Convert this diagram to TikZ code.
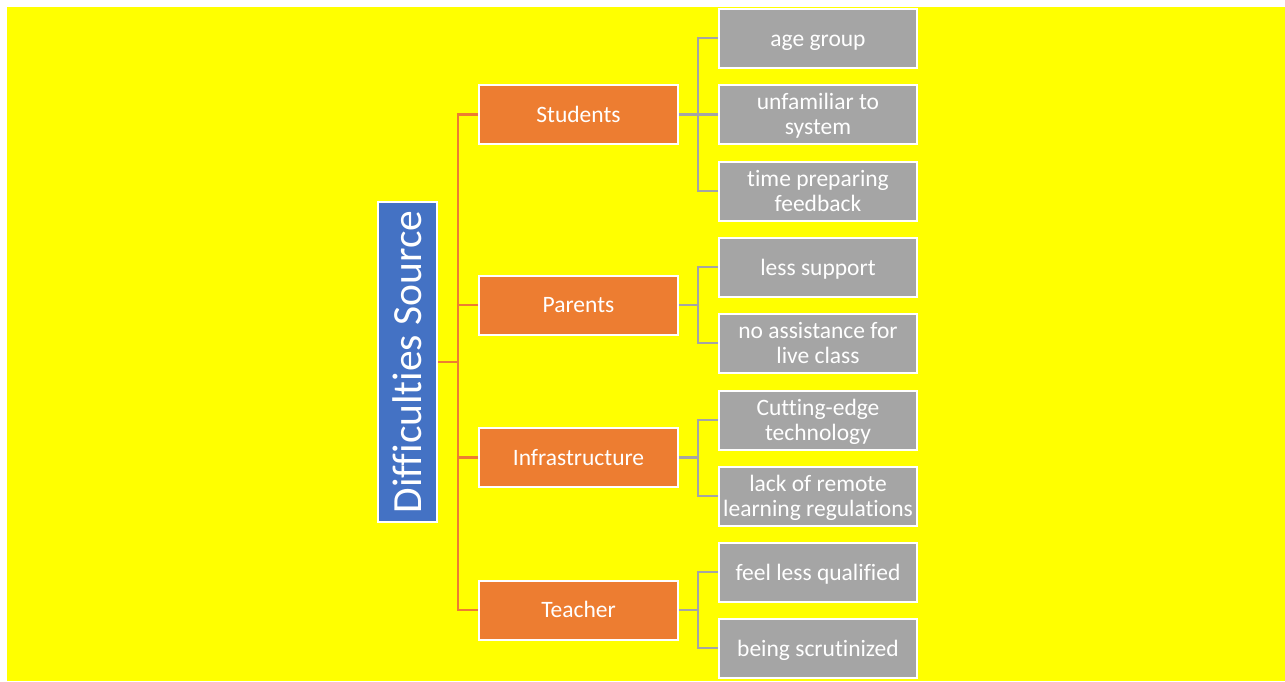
\documentclass[tikz,border=0pt]{standalone}
\usepackage{fontspec}
\setmainfont[Ligatures=NoCommon]{Carlito}
\definecolor{bgyellow}{RGB}{255,255,0}
\definecolor{orgfill}{RGB}{237,125,49}
\definecolor{grayfill}{RGB}{165,165,165}
\definecolor{bluefill}{RGB}{68,114,196}
\newcommand{\catstrut}{\rule[-11pt]{0pt}{37pt}}
\newcommand{\leafstrut}{\rule[-11pt]{0pt}{38pt}}
\newcommand{\twolines}[1]{\raisebox{-9pt}[0pt][0pt]{\begin{tabular}{@{}c@{}}#1\end{tabular}}}
\begin{document}
\begin{tikzpicture}[x=1pt,y=-1pt,
  rootbox/.style={draw=white,line width=2pt,fill=bluefill,text=white,minimum width=59pt,minimum height=320pt,inner sep=0pt,font=\fontsize{41.5}{44}\selectfont},
  catbox/.style={draw=white,line width=2pt,fill=orgfill,text=white,minimum width=199pt,minimum height=59pt,inner sep=0pt,font=\fontsize{23.5}{26}\selectfont,execute at begin node=\catstrut},
  leafbase/.style={draw=white,line width=2pt,fill=grayfill,text=white,minimum width=198pt,minimum height=59pt,inner sep=0pt,font=\fontsize{23.5}{25}\selectfont},
  leafbox/.style={leafbase,execute at begin node=\leafstrut},
  leaftwo/.style={leafbase},
  oline/.style={draw=orgfill,line width=2.2pt},
  gline/.style={draw=grayfill,line width=2.2pt}]
\useasboundingbox (0,0) rectangle (1285,681);
\fill[white] (0,0) rectangle (1285,681);
\fill[bgyellow] (7,7) rectangle (1285,681);

\node[rootbox] (root) at (407.5,362) {\rotatebox{90}{Difficulties Source}};

\node[catbox] (stu) at (578.5,114.5) {Students};
\node[catbox] (par) at (578.5,305) {Parents};
\node[catbox] (inf) at (578.5,457.5) {Infrastructure};
\node[catbox] (tea) at (578.5,610) {Teacher};

\node[leafbox] (l1) at (818,38) {age group};
\node[leaftwo] (l2) at (818,114.5) {\twolines{unfamiliar to\\system}};
\node[leaftwo] (l3) at (818,191) {\twolines{time preparing\\feedback}};
\node[leafbox] (l4) at (818,267) {less support};
\node[leaftwo] (l5) at (818,343) {\twolines{no assistance for\\live class}};
\node[leaftwo] (l6) at (818,420) {\twolines{Cutting-edge\\technology}};
\node[leaftwo] (l7) at (818,496) {\twolines{lack of remote\\learning regulations}};
\node[leafbox] (l8) at (818,572) {feel less qualified};
\node[leafbox] (l9) at (818,648) {being scrutinized};

\coordinate (oj) at (458,362);
\draw[oline] (root.east) -- (oj);
\draw[oline] (oj) |- (stu.west);
\draw[oline] (oj) |- (par.west);
\draw[oline] (oj) |- (inf.west);
\draw[oline] (oj) |- (tea.west);

\coordinate (sj) at (698,114.5);
\coordinate (pj) at (698,305);
\coordinate (ij) at (698,457.5);
\coordinate (tj) at (698,610);
\draw[gline] (stu.east) -- (sj);
\draw[gline] (sj) |- (l1.west);
\draw[gline] (sj) |- (l2.west);
\draw[gline] (sj) |- (l3.west);
\draw[gline] (par.east) -- (pj);
\draw[gline] (pj) |- (l4.west);
\draw[gline] (pj) |- (l5.west);
\draw[gline] (inf.east) -- (ij);
\draw[gline] (ij) |- (l6.west);
\draw[gline] (ij) |- (l7.west);
\draw[gline] (tea.east) -- (tj);
\draw[gline] (tj) |- (l8.west);
\draw[gline] (tj) |- (l9.west);
\end{tikzpicture}
\end{document}
